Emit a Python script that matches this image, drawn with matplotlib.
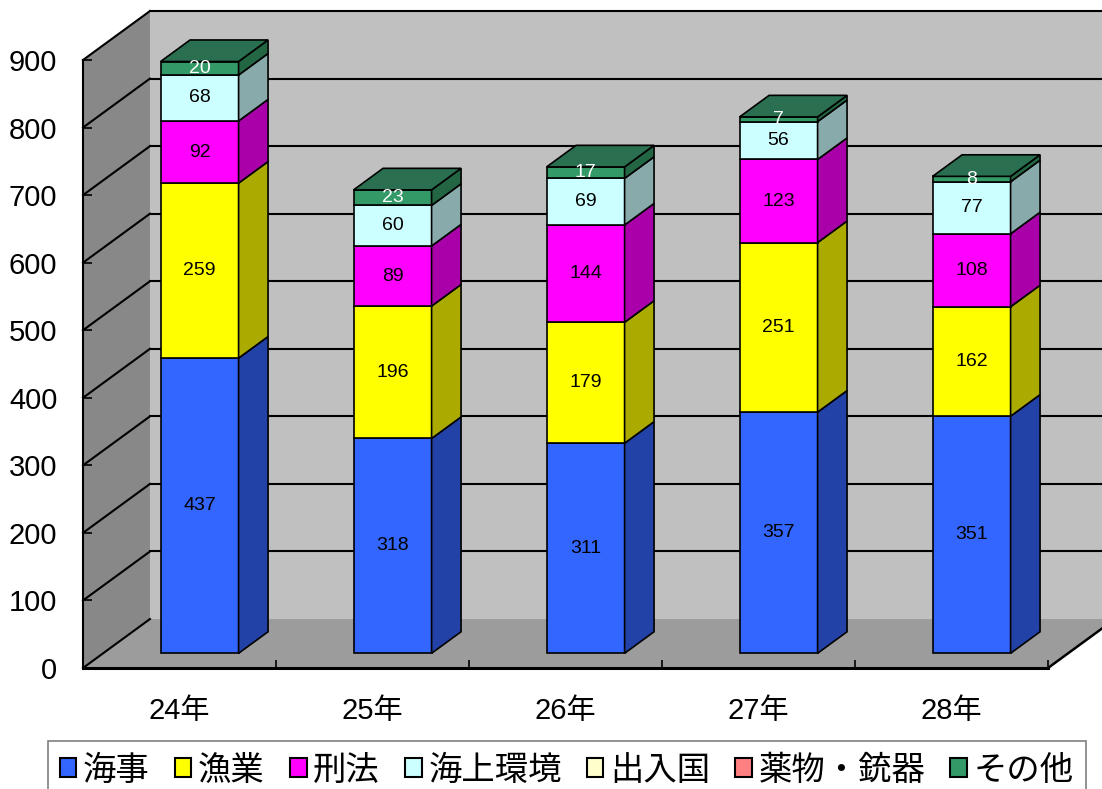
import matplotlib
matplotlib.use("Agg")
import matplotlib.pyplot as plt
from matplotlib.patches import Polygon, Patch

# -----------------------------
# Data
# -----------------------------
years = ["24年", "25年", "26年", "27年", "28年"]
series_names = ["海事", "漁業", "刑法", "海上環境", "出入国", "薬物・銃器", "その他"]
kaiji = [437, 318, 311, 357, 351]
gyogyo = [259, 196, 179, 251, 162]
keiho = [92, 89, 144, 123, 108]
kankyo = [68, 60, 69, 56, 77]
shutsunyu = [0, 0, 0, 0, 0]
yakubutsu = [0, 0, 0, 0, 0]
sonota = [20, 23, 17, 7, 8]
yticks = list(range(0, 1000, 100))

series = [kaiji, gyogyo, keiho, kankyo, shutsunyu, yakubutsu, sonota]
front_colors = ["#3366FF", "#FFFF00", "#FF00FF", "#CCFFFF", "#FFFFCC", "#FF8080", "#339966"]
side_colors = ["#2342A8", "#AAAA00", "#AA00AA", "#88AAAA", "#AAAA88", "#AA5555", "#226644"]
top_colors = ["#2850CC", "#CCCC00", "#CC00CC", "#A3CCCC", "#CCCCA3", "#CC6666", "#2A7050"]
label_colors = ["black", "black", "black", "black", "black", "black", "white"]

# pseudo-3D geometry (depth offsets in data units)
DX = 0.347      # x shift of full depth (category units)
DY = 72.5       # y shift of full depth (value units)
D0, D1 = 0.30, 0.74   # bar front / back depth
BAR_W = 0.404

plt.rcParams['font.family'] = ['Liberation Sans', 'Noto Sans CJK JP']

W, H = 1102, 789
fig = plt.figure(figsize=(W / 100, H / 100), dpi=100)
ax = fig.add_axes([83 / W, 121 / H, 965 / W, 608 / H])
ax.set_xlim(0, len(years))
ax.set_ylim(0, 900)
ax.patch.set_visible(False)


def proj(x, v, d):
    return (x + d * DX, v + d * DY)


def poly(pts, fc, ec="none", lw=0, z=0):
    ax.add_patch(Polygon(pts, closed=True, facecolor=fc, edgecolor=ec,
                         linewidth=lw, zorder=z, clip_on=False, joinstyle="miter"))


n = len(years)
top = yticks[-1]
# walls
poly([proj(0, 0, 1), proj(n, 0, 1), proj(n, top, 1), proj(0, top, 1)], "#C0C0C0", z=0)
poly([proj(0, 0, 0), proj(0, 0, 1), proj(0, top, 1), proj(0, top, 0)], "#888888", z=0)
poly([proj(0, 0, 0), proj(n, 0, 0), proj(n, 0, 1), proj(0, 0, 1)], "#9C9C9C", z=0)

# gridlines
for v in yticks:
    xs, ys = zip(proj(0, v, 0), proj(0, v, 1))
    ax.plot(xs, ys, color="black", lw=1.5, zorder=0.5, clip_on=False)
    if v > 0:
        xs, ys = zip(proj(0, v, 1), proj(n, v, 1))
        ax.plot(xs, ys, color="black", lw=1.5, zorder=0.5, clip_on=False)
xs, ys = zip(proj(n, 0, 0), proj(n, 0, 1))
ax.plot(xs, ys, color="black", lw=1.8, zorder=0.5, clip_on=False)

# bars
for i in range(n):
    c = i + 0.5
    xl, xr = c - BAR_W / 2, c + BAR_W / 2
    base = 0
    last = max(k for k in range(len(series)) if series[k][i] > 0)
    for k, vals in enumerate(series):
        v = vals[i]
        if v <= 0:
            continue
        b, t = base, base + v
        z = 2 + k * 0.1
        poly([proj(xl, b, D0), proj(xr, b, D0), proj(xr, t, D0), proj(xl, t, D0)],
             front_colors[k], "black", 1.2, z)
        poly([proj(xr, b, D0), proj(xr, b, D1), proj(xr, t, D1), proj(xr, t, D0)],
             side_colors[k], "black", 1.2, z)
        if k == last:
            poly([proj(xl, t, D0), proj(xr, t, D0), proj(xr, t, D1), proj(xl, t, D1)],
                 top_colors[k], "black", 1.2, z + 0.05)
        lx, ly = proj(c, (b + t) / 2, D0)
        ax.text(lx, ly, str(v), ha="center", va="center", fontsize=14,
                color=label_colors[k], zorder=5)
        base = t

# axes / ticks
for s in ["top", "right"]:
    ax.spines[s].set_visible(False)
ax.spines["left"].set_linewidth(1.5)
ax.spines["bottom"].set_linewidth(2.2)
ax.spines["left"].set_zorder(1)
ax.spines["bottom"].set_zorder(1)

ax.set_yticks(yticks)
ax.set_yticklabels([str(v) for v in yticks])
ax.tick_params(axis="y", direction="in", length=6.5, width=1.2, pad=18.5, labelsize=21)

ax.set_xticks(range(n + 1))
ax.set_xticklabels([])
ax.set_xticks([i + 0.5 for i in range(n)], minor=True)
ax.set_xticklabels(years, minor=True)
ax.tick_params(axis="x", which="major", direction="in", length=6, width=1.2)
ax.tick_params(axis="x", which="minor", length=0, pad=21, labelsize=21)

# legend
handles = [Patch(facecolor=front_colors[k], edgecolor="black", linewidth=1.5)
           for k in range(len(series_names))]
leg = fig.legend(handles, series_names, loc="upper left",
                 bbox_to_anchor=(48 / W, 1 - 741 / H), ncol=len(series_names),
                 prop={"family": ["Noto Sans CJK JP"], "size": 24},
                 frameon=True, fancybox=False, edgecolor="#808080", framealpha=1,
                 handlelength=0.5, handleheight=0.5, handletextpad=0.2,
                 columnspacing=0.75, borderpad=0.35, borderaxespad=0)
leg.get_frame().set_linewidth(1.2)

fig.savefig("out.png", dpi=100, facecolor="white")
